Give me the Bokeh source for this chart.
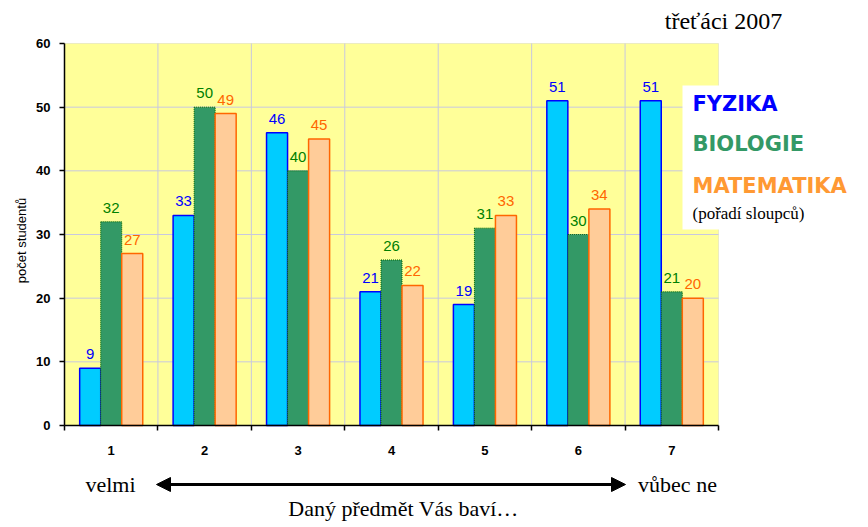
from bokeh.plotting import figure
from bokeh.models import (ColumnDataSource, FixedTicker, LabelSet, Label, BoxAnnotation,
                          Arrow, NormalHead, Range1d, LinearAxis)
from bokeh.core.properties import value
from bokeh.transform import dodge
from bokeh.embed import file_html
from bokeh.resources import INLINE

# ---- data ----
categories = [1, 2, 3, 4, 5, 6, 7]
fyzika = [9, 33, 46, 21, 19, 51, 51]
biologie = [32, 50, 40, 26, 31, 30, 21]
matematika = [27, 49, 45, 22, 33, 34, 20]
series_names = ["FYZIKA", "BIOLOGIE", "MATEMATIKA"]
y_ticks = [0, 10, 20, 30, 40, 50, 60]
title_text = "třeťáci 2007"
y_label = "počet studentů"
left_note = "velmi"
right_note = "vůbec ne"
bottom_note = "Daný předmět Vás baví…"
legend_note = "(pořadí sloupců)"

# ---- layout constants (pixels of the canvas) ----
W, H = 866, 525
PL, PR, PT, PB = 64, 718, 43, 425          # plot area edges
XMIN, XMAX = categories[0] - 0.5, categories[-1] + 0.5
YMIN, YMAX = y_ticks[0], y_ticks[-1]
SX = (PR - PL) / (XMAX - XMIN)
SY = (PB - PT) / (YMAX - YMIN)
X0 = XMIN - PL / SX
Y1 = YMAX + PT / SY

def dx(px):
    return X0 + px / SX

def dy(py):
    return Y1 - py / SY

SANS = "Liberation Sans"
SERIF = "Liberation Serif"
LEG = "DejaVu Sans"

fill_cols = ["#00ccff", "#339966", "#ffcc99"]
line_cols = ["#0000ff", "#006600", "#ff6600"]
line_w = [1.5, 1, 1.5]
line_dash = ["solid", "1 1", "solid"]
lab_cols = ["#0000ff", "#008000", "#ff6600"]
leg_cols = ["#0000ff", "#339966", "#ff9933"]
GRID = "#c8c8e0"

p = figure(width=W, height=H, x_range=Range1d(dx(0), dx(W)), y_range=Range1d(dy(H), dy(0)),
           output_backend="svg", toolbar_location=None, title=None,
           min_border=0, min_border_left=0, min_border_right=0,
           min_border_top=0, min_border_bottom=0)
p.background_fill_color = "white"
p.border_fill_color = "white"
p.outline_line_color = None
p.xgrid.visible = False
p.ygrid.visible = False

# plot area background + dotted top/right border
p.add_layout(BoxAnnotation(left=XMIN, right=XMAX, bottom=YMIN, top=YMAX,
                           fill_color="#ffff99", fill_alpha=1.0,
                           line_color="#808080", line_dash="1 1", line_width=1,
                           level="image"))

bounds = [c - 0.5 for c in categories] + [categories[-1] + 0.5]
# grid lines
p.segment(x0=XMIN, x1=XMAX, y0=y_ticks[1:-1], y1=y_ticks[1:-1], line_color=GRID, line_width=1)
p.segment(x0=bounds[1:-1], x1=bounds[1:-1], y0=YMIN, y1=YMAX, line_color=GRID, line_width=1)

# axes
xax = p.xaxis[0]
yax = p.yaxis[0]
xax.fixed_location = YMIN
xax.bounds = (XMIN, XMAX)
xax.ticker = FixedTicker(ticks=bounds)
xax.major_label_overrides = {b: "" for b in bounds}
yax.fixed_location = XMIN
yax.bounds = (YMIN, YMAX)
yax.ticker = FixedTicker(ticks=y_ticks)
for ax in (xax, yax):
    ax.minor_tick_line_color = None
    ax.major_tick_in = 0
    ax.major_tick_out = 5
    ax.axis_line_width = 1.5
    ax.major_tick_line_width = 1.5
    ax.axis_line_color = "black"
    ax.major_label_text_font = SANS
    ax.major_label_text_font_style = "bold"
    ax.major_label_text_font_size = "13px"
    ax.major_label_text_color = "black"
yax.major_label_standoff = 9

# y-axis title
p.add_layout(Label(x=dx(21), y=dy(240), text=y_label, text_font=SANS,
                   text_font_size="13px", text_color="black", angle=90, angle_units="deg",
                   text_align="center", text_baseline="middle"))

cat_axis = LinearAxis(ticker=FixedTicker(ticks=categories), fixed_location=YMIN,
                      bounds=(XMIN, XMAX), axis_line_color=None,
                      major_tick_line_color=None, minor_tick_line_color=None,
                      major_tick_out=0, major_tick_in=0, major_label_standoff=20,
                      major_label_text_font=SANS, major_label_text_font_style="bold",
                      major_label_text_font_size="13px", major_label_text_color="black")
p.add_layout(cat_axis, "below")

src = ColumnDataSource(dict(x=categories, f=fyzika, b=biologie, m=matematika,
                            fs=[str(v) for v in fyzika], bs=[str(v) for v in biologie],
                            ms=[str(v) for v in matematika]))
BW = 0.225
for i, (col, txt) in enumerate([("f", "fs"), ("b", "bs"), ("m", "ms")]):
    off = (i - 1) * BW
    p.vbar(x=dodge("x", off), top=col, width=BW, source=src,
           fill_color=fill_cols[i], line_color=line_cols[i], line_width=line_w[i],
           line_dash=line_dash[i])
    p.add_layout(LabelSet(x=dodge("x", off), y=col, text=txt, source=src,
                          y_offset=9, text_align="center", text_baseline="bottom",
                          text_font=value(SANS), text_font_size=value("15px"),
                          text_color=value(lab_cols[i])))

# legend box
p.add_layout(BoxAnnotation(left=dx(682), right=dx(856), top=dy(85), bottom=dy(229),
                           fill_color="white", fill_alpha=1.0, line_alpha=0, level="overlay"))
leg_y = [103, 143, 185]
for i, name in enumerate(series_names):
    p.add_layout(Label(x=dx(692), y=dy(leg_y[i]), text=name, text_font=LEG,
                       text_font_style="bold", text_font_size="21px", text_color=leg_cols[i],
                       text_baseline="middle", text_align="left", level="overlay"))
p.add_layout(Label(x=dx(692), y=dy(213), text=legend_note, text_font=SERIF,
                   text_font_size="17px", text_color="black", text_baseline="middle",
                   text_align="left", level="overlay"))

# title
p.add_layout(Label(x=dx(723), y=dy(20), text=title_text, text_font=SERIF,
                   text_font_size="24px", text_color="black", text_baseline="middle",
                   text_align="center"))

# bottom annotations
p.add_layout(Label(x=dx(110), y=dy(484), text=left_note, text_font=SERIF,
                   text_font_size="22px", text_color="black", text_baseline="middle",
                   text_align="center"))
p.add_layout(Label(x=dx(677), y=dy(484), text=right_note, text_font=SERIF,
                   text_font_size="22px", text_color="black", text_baseline="middle",
                   text_align="center"))
p.add_layout(Label(x=dx(403), y=dy(508), text=bottom_note, text_font=SERIF,
                   text_font_size="22px", text_color="black", text_baseline="middle",
                   text_align="center"))
p.add_layout(Arrow(x_start=dx(156), y_start=dy(484), x_end=dx(625), y_end=dy(484),
                   line_width=3, line_color="black",
                   start=NormalHead(size=14, fill_color="black", line_color="black"),
                   end=NormalHead(size=14, fill_color="black", line_color="black")))

open("out.html", "w").write(file_html(p, INLINE))
